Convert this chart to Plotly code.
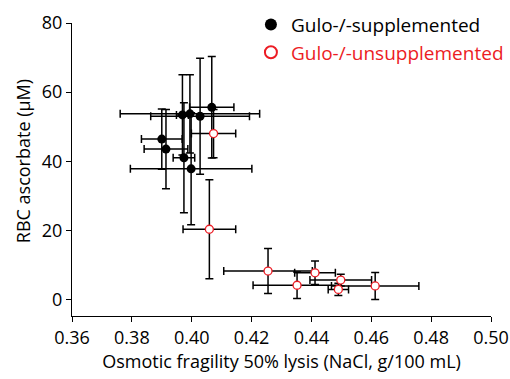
import plotly.graph_objects as go

# Gulo-/- supplemented (black filled)
sup_x = [0.3969, 0.3994, 0.4028, 0.4067, 0.3900, 0.3914, 0.3974, 0.3998]
sup_y = [53.4, 53.7, 53.0, 55.6, 46.4, 43.5, 41.0, 37.8]
sup_xerr = [0.002, 0.0233, 0.0165, 0.0074, 0.0068, 0.0073, 0.0036, 0.0203]
sup_yerr = [11.6, 11.3, 16.8, 14.7, 8.7, 11.5, 15.9, 16.2]

# Gulo-/- unsupplemented (red open)
uns_x = [0.4073, 0.4059, 0.4255, 0.4412, 0.4498, 0.4352, 0.4613, 0.4490]
uns_y = [48.0, 20.3, 8.2, 7.7, 5.6, 4.1, 3.9, 2.9]
uns_xerr = [0.0074, 0.0088, 0.0148, 0.0068, 0.0103, 0.0147, 0.0146, 0.0034]
uns_yerr = [7.0, 14.3, 6.5, 3.4, 1.7, 3.8, 3.9, 1.8]

x_ticks = [0.36, 0.38, 0.40, 0.42, 0.44, 0.46, 0.48, 0.50]
y_ticks = [0, 20, 40, 60, 80]

RED = "#ec1c24"
FONT = "Open Sans"

fig = go.Figure()
eb = dict(type="data", color="black", thickness=1.5, width=4)
fig.add_trace(go.Scatter(
    x=sup_x, y=sup_y, mode="markers", name="Gulo-/-supplemented",
    marker=dict(color="black", size=9, line=dict(width=0)),
    error_x=dict(array=sup_xerr, **eb), error_y=dict(array=sup_yerr, **eb),
))
fig.add_trace(go.Scatter(
    x=uns_x, y=uns_y, mode="markers",
    name=f'<span style="color:{RED}">Gulo-/-unsupplemented</span>',
    marker=dict(color="white", size=8, line=dict(color=RED, width=1.3)),
    error_x=dict(array=uns_xerr, **eb), error_y=dict(array=uns_yerr, **eb),
))

fig.update_layout(
    width=510, height=379,
    margin=dict(l=72, r=19, t=23, b=63, autoexpand=False),
    paper_bgcolor="white", plot_bgcolor="white",
    font=dict(family=FONT, size=18, color="black"),
    showlegend=True,
    legend=dict(x=0.492, y=0.985, xref="container", yref="container",
                xanchor="left", yanchor="top",
                bgcolor="rgba(0,0,0,0)", font=dict(size=19),
                tracegroupgap=0, itemsizing="constant"),
)
fig.update_xaxes(
    range=[0.36, 0.50], tickvals=x_ticks, ticktext=[f"{v:.2f}" for v in x_ticks],
    showgrid=False, zeroline=False, showline=True, linecolor="black", linewidth=1.2,
    ticks="outside", ticklen=5, tickwidth=1.2, tickcolor="black",
    title=dict(text="Osmotic fragility 50% lysis (NaCl, g/100 mL)", standoff=6,
               font=dict(size=18)),
)
fig.update_yaxes(
    range=[-4.8, 80], tickvals=y_ticks,
    showgrid=False, zeroline=False, showline=True, linecolor="black", linewidth=1.2,
    ticks="outside", ticklen=5, tickwidth=1.2, tickcolor="black",
)
fig.add_annotation(
    text="RBC ascorbate (µM)", textangle=-90, xref="paper", yref="paper",
    x=-0.117, y=(40 + 4.8) / 84.8, xanchor="center", yanchor="middle",
    showarrow=False, font=dict(size=18),
)
fig.write_html("out.html")
